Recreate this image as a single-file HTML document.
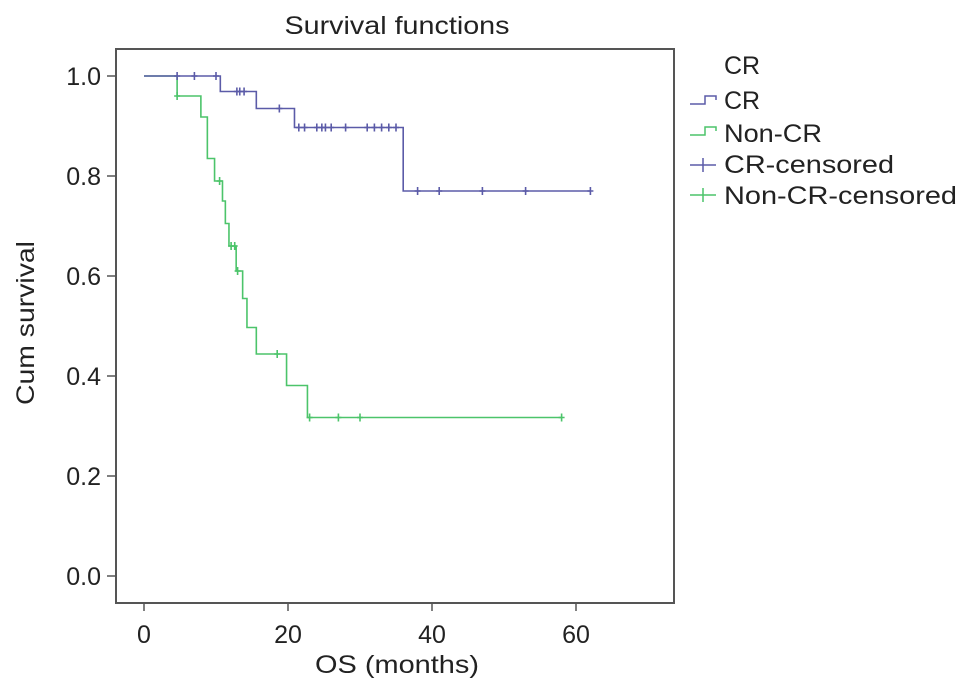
<!DOCTYPE html>
<html><head><meta charset="utf-8"><style>
body{margin:0;background:#fff;}
text{font-family:"Liberation Sans",Arial,sans-serif;fill:#222;}
</style></head><body>
<svg id="chart" width="969" height="694" viewBox="0 0 969 694" xmlns="http://www.w3.org/2000/svg">
<text x="397" y="34" font-size="25" text-anchor="middle" textLength="225" lengthAdjust="spacingAndGlyphs">Survival functions</text>
<rect x="116" y="49" width="558" height="554" fill="none" stroke="#555" stroke-width="2"/>
<g id="axes"></g>
<g id="series"></g>
<text transform="translate(34,323) rotate(-90)" font-size="25" text-anchor="middle" textLength="164" lengthAdjust="spacingAndGlyphs">Cum survival</text>
<text x="397" y="673" font-size="25" text-anchor="middle" textLength="164" lengthAdjust="spacingAndGlyphs">OS (months)</text>
<g>
<text x="724" y="74" font-size="25">CR</text>
<path d="M690,104 H705 V96 H716 V100" fill="none" stroke="#5b5ba8" stroke-width="1.5"/>
<text x="724" y="109" font-size="25">CR</text>
<path d="M690,135 H705 V127 H716 V131" fill="none" stroke="#4cc46a" stroke-width="1.5"/>
<text x="724" y="142" font-size="25" textLength="98" lengthAdjust="spacingAndGlyphs">Non-CR</text>
<path d="M690,165 H716 M703,158 V172" stroke="#5b5ba8" stroke-width="1.5"/>
<text x="724" y="173" font-size="25" textLength="170" lengthAdjust="spacingAndGlyphs">CR-censored</text>
<path d="M690,195 H716 M703,188 V202" stroke="#4cc46a" stroke-width="1.5"/>
<text x="724" y="204" font-size="25" textLength="233" lengthAdjust="spacingAndGlyphs">Non-CR-censored</text>
</g>
</svg>
<script>
const xTicks=[0,20,40,60];
const yTicks=[0.0,0.2,0.4,0.6,0.8,1.0];
const crEventTimes=[10.6,15.6,20.9,36];
const crEventSurv=[0.969,0.935,0.897,0.770];
const crCensorTimes=[4.6,7,10,12.9,13.3,13.9,18.8,21.5,22.3,24,24.7,25.2,26,28,31,32,33,34,35,38,41,47,53,62];
const nonCrEventTimes=[4.6,7.9,8.8,9.8,10.9,11.3,11.8,12.8,13.7,14.3,15.6,19.8,22.7];
const nonCrEventSurv=[0.96,0.918,0.835,0.79,0.75,0.705,0.66,0.61,0.555,0.497,0.444,0.381,0.317];
const nonCrCensorTimes=[4.6,10.5,12.1,12.6,13,18.5,23,27,30,58];
const NS='http://www.w3.org/2000/svg';
function xs(t){return 144+t*7.2;}
function ys(s){return 576-s*500;}
function el(tag,attrs,parent){const e=document.createElementNS(NS,tag);for(const k in attrs)e.setAttribute(k,attrs[k]);parent.appendChild(e);return e;}
const axes=document.getElementById('axes');
xTicks.forEach(t=>{
  const l=el('line',{x1:xs(t),x2:xs(t),y1:603,y2:611,stroke:'#555','stroke-width':1.5},axes);
  
  
  const tx=el('text',{x:xs(t),y:643,'font-size':25,'text-anchor':'middle'},axes);
  tx.textContent=String(t);
  
  
});
yTicks.forEach(v=>{
  const l=el('line',{x1:107,x2:116,y1:ys(v),y2:ys(v),stroke:'#555','stroke-width':1.5},axes);
  
  
  const tx=el('text',{x:101,y:ys(v)+9,'font-size':25,'text-anchor':'end'},axes);
  tx.textContent=v.toFixed(1);
  
  
});
const series=document.getElementById('series');
function survAt(times,surv,t){let s=1;for(let i=0;i<times.length;i++){if(times[i]<=t)s=surv[i];}return s;}
function drawCurve(times,surv,censors,color,name){
  const tEnd=Math.max(times[times.length-1],censors[censors.length-1]);
  let d='M'+xs(0)+','+ys(1);
  for(let i=0;i<times.length;i++){d+=' H'+xs(times[i])+' V'+ys(surv[i]);}
  d+=' H'+xs(tEnd);
  const p=el('path',{d:d,fill:'none',stroke:color,'stroke-width':1.6},series);
  
  
  censors.forEach(t=>{
    const y=ys(survAt(times,surv,t)),x=xs(t);
    const c=el('path',{d:`M${x-3},${y} H${x+3} M${x},${y-4} V${y+4}`,stroke:color,'stroke-width':1.6},series);
    
    
  });
}
drawCurve(nonCrEventTimes,nonCrEventSurv,nonCrCensorTimes,'#4cc46a','non-cr');
drawCurve(crEventTimes,crEventSurv,crCensorTimes,'#5b5ba8','cr');
</script>
</body></html>
